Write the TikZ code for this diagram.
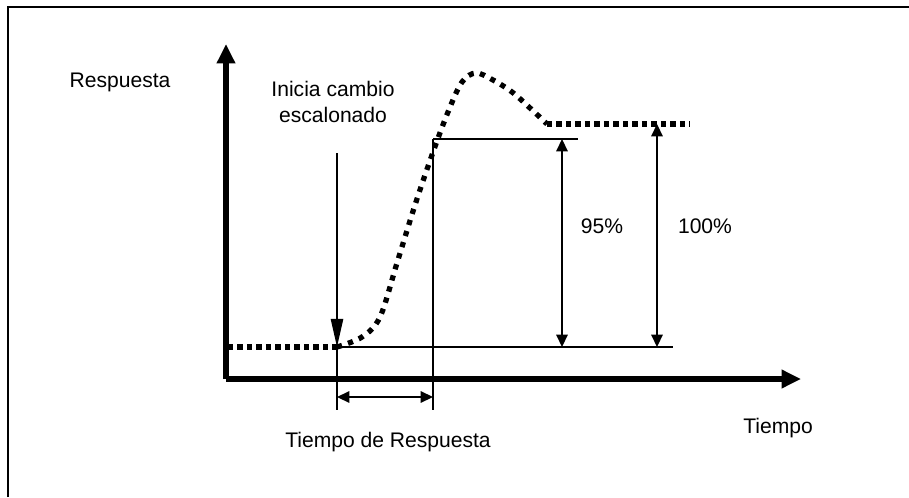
\documentclass[tikz,border=0pt]{standalone}
\usepackage{fontspec}
\setmainfont{Liberation Sans}
\usetikzlibrary{arrows.meta}

\begin{document}
\begin{tikzpicture}[x=0.02cm,y=-0.02cm,font=\fontsize{12}{14}\selectfont,
    axis/.style={line width=3.2pt,-{Triangle[length=11pt,width=10pt]}},
    thin/.style={line width=0.9pt},
    dimarrow/.style={line width=0.9pt,{Triangle[length=7pt,width=6.5pt]}-{Triangle[length=7pt,width=6.5pt]}},
    flatdots/.style={line width=3pt,dash pattern=on 3pt off 2.4pt},
    curvedots/.style={line width=3pt,dash pattern=on 3pt off 3.6pt}]
          \useasboundingbox (0,0) rectangle (909,497);
          \draw[line width=1.6pt] (8,497) -- (8,7) -- (909,7);
          % axes
          \coordinate (O) at (226,379); \coordinate (Ytop) at (226,44); \coordinate (Xend) at (801,379);
          \draw[axis] (O) -- (Ytop); \draw[axis] (O) -- (Xend);
          % response levels
          \coordinate (S) at (337,347); \coordinate (S0) at (228,347); \coordinate (B1) at (673,347);
          \coordinate (P) at (433,139); \coordinate (P1) at (578,139);
          \coordinate (F0) at (547,124); \coordinate (F1) at (690,124);
          \draw[flatdots] (S0) -- (S); \draw[flatdots] (F0) -- (F1);
          \draw[curvedots] plot[smooth,tension=0.55] coordinates {(S) (362,337) (380,317) (397,263)
            (415,205) (432,155) (448,112) (462,82) (476,73) (493,80) (512,92) (530,108) (547,124)};
          \draw[thin] (S) -- (B1); \draw[thin] (P) -- (P1);
          \draw[thin] (S) -- (337,410); \draw[thin] (P) -- (433,410);
          \draw[dimarrow] (562,139) -- (562,347); \draw[dimarrow] (657,124) -- (657,347);
          \draw[dimarrow] (337,397) -- (433,397);
          % step start
          \node[align=center] (inicia) at (333,102) {Inicia cambio\\[1pt]escalonado};
          \draw[thin,-{Triangle[length=16pt,width=7pt]}] (337,153) -- (S);
          % labels
          \node (resp) at (120,82) {Respuesta};
          \node (p95) at (602,226) {95\%}; \node (p100) at (705,226) {100\%};
          \node (tiempo) at (778,428) {Tiempo};
          \node (tresp) at (388,442) {Tiempo de Respuesta};
        \end{tikzpicture}
\end{document}
